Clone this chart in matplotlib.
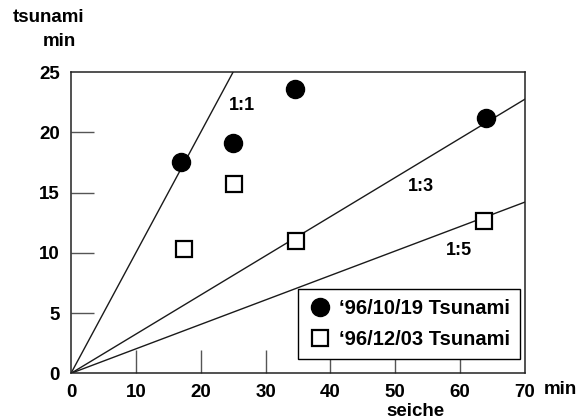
import numpy as np
import matplotlib
matplotlib.use('Agg')
import matplotlib.pyplot as plt

# (minutes)
seiche_oct = [16.9, 25.0, 34.6, 64.0]
tsunami_oct = [17.5, 19.1, 23.6, 21.2]
seiche_dec = [17.4, 25.2, 34.7, 63.7]
tsunami_dec = [10.3, 15.7, 11.0, 12.6]

ratio_labels = ['1:1', '1:3', '1:5']
ratio_slopes = [1.0, 0.325, 0.203]
ratio_label_pos = [(26.3, 22.2), (54.0, 15.5), (59.8, 10.2)]

x_ticks = [0, 10, 20, 30, 40, 50, 60, 70]
y_ticks = [0, 5, 10, 15, 20, 25]

plt.rcParams['font.family'] = ['Liberation Sans', 'DejaVu Sans']
plt.rcParams['font.weight'] = 'bold'

fig = plt.figure(figsize=(5.79, 4.19), dpi=100)
ax = fig.add_axes([0.1226, 0.109, 0.784, 0.719])

x_line = np.array([0, 70])
for slope in ratio_slopes:
    ax.plot(x_line, slope * x_line, color='#1a1a1a', linewidth=1.0, zorder=1)

for label, (lx, ly) in zip(ratio_labels, ratio_label_pos):
    ax.text(lx, ly, label, fontsize=13, fontweight='bold', ha='center', va='center')

ax.plot(seiche_oct, tsunami_oct, 'o', color='black', markersize=13,
        label="\u201896/10/19 Tsunami", zorder=3)
ax.plot(seiche_dec, tsunami_dec, 's', markerfacecolor='white', markeredgecolor='black',
        markeredgewidth=1.6, markersize=11.5, label="\u201896/12/03 Tsunami", zorder=3)

ax.set_xlim(0, 70)
ax.set_ylim(0, 25)
ax.set_xticks(x_ticks)
ax.set_yticks(y_ticks)
ax.tick_params(direction='in', length=16.5, width=1.0, color='#555555',
               labelsize=13.5, pad=8)
for lbl in ax.get_xticklabels() + ax.get_yticklabels():
    lbl.set_fontweight('bold')
# ticks at the ends sit on the spines, hide them
for t in (ax.xaxis.get_major_ticks()[0], ax.xaxis.get_major_ticks()[-1],
          ax.yaxis.get_major_ticks()[0], ax.yaxis.get_major_ticks()[-1]):
    t.tick1line.set_visible(False)
for sp in ax.spines.values():
    sp.set_linewidth(1.1)
    sp.set_color('#222222')

leg = ax.legend(loc='lower right', bbox_to_anchor=(0.9895, 0.048), frameon=True,
                fancybox=False, edgecolor='black', framealpha=1,
                prop={'weight': 'bold', 'size': 14.5}, handletextpad=0.35,
                borderpad=0.5, labelspacing=0.6, handlelength=1.2,
                borderaxespad=0.0)
leg.get_frame().set_linewidth(1.0)

fig.text(48.5 / 579, 1 - 17 / 419, 'tsunami', fontsize=13.5, fontweight='bold',
         ha='center', va='center')
fig.text(59.5 / 579, 1 - 42 / 419, 'min', fontsize=13.5, fontweight='bold',
         ha='center', va='center')
fig.text(560 / 579, 1 - 389 / 419, 'min', fontsize=13.5, fontweight='bold',
         ha='center', va='center')
fig.text(415 / 579, 1 - 411 / 419, 'seiche', fontsize=13.5, fontweight='bold',
         ha='center', va='center')

plt.savefig('out.png', dpi=100)
